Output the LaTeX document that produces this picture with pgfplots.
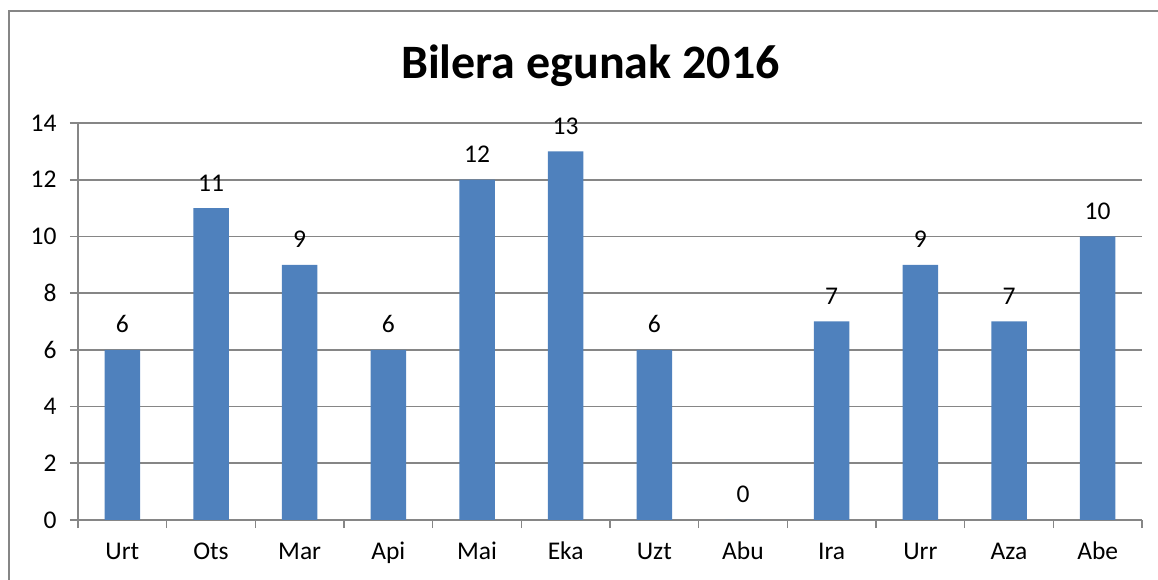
\documentclass[border=0pt]{standalone}
\usepackage{fontspec}
\setmainfont{Carlito}
\usepackage{pgfplots}
\pgfplotsset{compat=1.18}
\definecolor{barblue}{RGB}{79,129,189}
\definecolor{gridgray}{RGB}{134,134,134}
\begin{document}
\begin{tikzpicture}
\begin{axis}[
  at={(0,0)}, anchor=south west,
  scale only axis,
  width=1064pt, height=397pt,
  xmin=-0.5, xmax=11.5,
  ymin=0, ymax=14,
  ytick={0,2,...,14},
  xtick={0,...,11},
  xticklabels={Urt,Ots,Mar,Api,Mai,Eka,Uzt,Abu,Ira,Urr,Aza,Abe},
  minor xtick={-0.5,0.5,...,11.5},
  axis x line*=bottom, axis y line*=left,
  x axis line style={-, gridgray, line width=1.6pt},
  y axis line style={-, gridgray, line width=1.6pt},
  ymajorgrids, grid style={gridgray, line width=1.6pt},
  tick align=outside,
  major tick length=8pt, minor tick length=8pt,
  major x tick style={draw=none},
  minor x tick style={gridgray, line width=1.6pt},
  major y tick style={gridgray, line width=1.6pt},
  /pgf/number format/assume math mode=true,
  ticklabel style={font=\fontsize{25.5}{30}\selectfont},
  yticklabel style={xshift=-10pt},
  xticklabel style={text height=17pt, text depth=6pt, yshift=-11pt},
  ybar, bar width=35.5pt, bar shift=0pt,
  nodes near coords,
  every node near coord/.append style={font=\fontsize{25.5}{30}\selectfont, black, inner sep=0pt, anchor=base, yshift=17pt},
]
\addplot[fill=barblue, draw=none] coordinates {
(0,6) (1,11) (2,9) (3,6) (4,12) (5,13) (6,6) (7,0) (8,7) (9,9) (10,7) (11,10)};
\end{axis}
\node[anchor=base, font=\bfseries\fontsize{48}{58}\selectfont, inner sep=0pt] at (512.5pt,441pt) {Bilera egunak 2016};
\draw[gridgray, line width=2.2pt] (-69pt,-70pt) -- (-69pt,509pt) -- (1090pt,509pt);
\pgfresetboundingbox
\useasboundingbox (-78pt,-60pt) rectangle (1080pt,520pt);
\end{tikzpicture}
\end{document}
